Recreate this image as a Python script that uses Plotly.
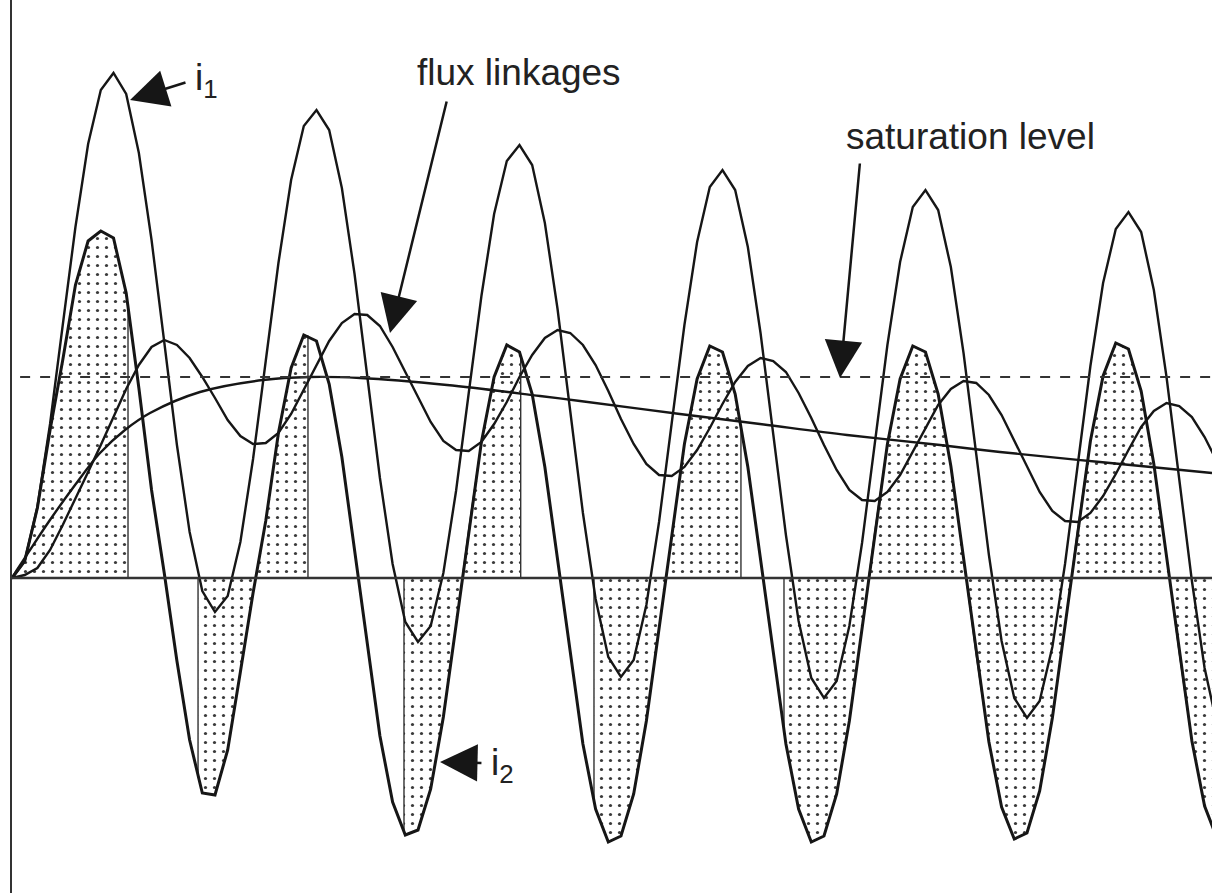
import plotly.graph_objects as go

# ---- data (time in ms, currents / flux in per-unit) ----
t_ms = [0.0, 1.25, 2.5, 3.75, 5.0, 6.25, 7.5, 8.75, 10.0, 11.25, 12.5, 13.75, 15.0, 16.25, 17.5, 18.75,
        20.0, 21.25, 22.5, 23.75, 25.0, 26.25, 27.5, 28.75, 30.0, 31.25, 32.5, 33.75, 35.0, 36.25, 37.5, 38.75,
        40.0, 41.25, 42.5, 43.75, 45.0, 46.25, 47.5, 48.75, 50.0, 51.25, 52.5, 53.75, 55.0, 56.25, 57.5, 58.75,
        60.0, 61.25, 62.5, 63.75, 65.0, 66.25, 67.5, 68.75, 70.0, 71.25, 72.5, 73.75, 75.0, 76.25, 77.5, 78.75,
        80.0, 81.25, 82.5, 83.75, 85.0, 86.25, 87.5, 88.75, 90.0, 91.25, 92.5, 93.75, 95.0, 96.25, 97.5, 98.75,
        100.0, 101.25, 102.5, 103.75, 105.0, 106.25, 107.5, 108.75, 110.0, 111.25, 112.5, 113.75, 115.0, 116.25, 117.5, 118.75]

i1 = [0.00, 0.17, 0.71, 1.54, 2.53, 3.51, 4.34, 4.88, 5.05, 4.84, 4.25, 3.38, 2.36, 1.33, 0.46, -0.13,
      -0.34, -0.18, 0.36, 1.19, 2.17, 3.15, 3.98, 4.52, 4.68, 4.48, 3.90, 3.04, 2.02, 1.00, 0.14, -0.44,
      -0.64, -0.48, 0.05, 0.87, 1.85, 2.82, 3.64, 4.17, 4.33, 4.13, 3.55, 2.69, 1.67, 0.65, -0.21, -0.79,
      -0.99, -0.82, -0.27, 0.56, 1.55, 2.53, 3.36, 3.91, 4.08, 3.88, 3.31, 2.45, 1.44, 0.43, -0.43, -1.00,
      -1.20, -1.03, -0.48, 0.35, 1.34, 2.33, 3.16, 3.71, 3.88, 3.68, 3.11, 2.25, 1.24, 0.23, -0.63, -1.20,
      -1.40, -1.23, -0.69, 0.14, 1.13, 2.12, 2.95, 3.49, 3.66, 3.46, 2.88, 2.01, 0.99, -0.03, -0.90, -1.48]

i2 = [0.00, 0.17, 0.70, 1.48, 2.18, 2.93, 3.37, 3.47, 3.40, 2.85, 1.90, 0.88, 0.05, -0.83, -1.62, -2.15,
      -2.17, -1.72, -0.94, -0.15, 0.57, 1.45, 2.10, 2.43, 2.37, 1.94, 1.21, 0.28, -0.70, -1.58, -2.24, -2.57,
      -2.52, -2.11, -1.39, -0.47, 0.49, 1.36, 2.01, 2.33, 2.26, 1.84, 1.11, 0.19, -0.78, -1.66, -2.31, -2.64,
      -2.58, -2.16, -1.43, -0.51, 0.46, 1.34, 1.99, 2.32, 2.26, 1.84, 1.11, 0.19, -0.78, -1.66, -2.31, -2.64,
      -2.58, -2.16, -1.43, -0.51, 0.46, 1.34, 1.99, 2.32, 2.26, 1.84, 1.12, 0.20, -0.77, -1.64, -2.29, -2.61,
      -2.55, -2.13, -1.40, -0.48, 0.49, 1.37, 2.02, 2.35, 2.29, 1.87, 1.14, 0.22, -0.75, -1.63, -2.28, -2.61]

flux = [0.00, 0.03, 0.10, 0.28, 0.53, 0.79, 1.06, 1.33, 1.61, 1.89, 2.13, 2.31, 2.38, 2.33, 2.20, 2.01,
        1.80, 1.58, 1.42, 1.34, 1.35, 1.45, 1.64, 1.88, 2.13, 2.37, 2.55, 2.64, 2.63, 2.52, 2.31, 2.06,
        1.81, 1.56, 1.37, 1.28, 1.27, 1.36, 1.54, 1.76, 2.01, 2.23, 2.40, 2.48, 2.45, 2.33, 2.13, 1.87,
        1.59, 1.34, 1.14, 1.03, 1.02, 1.11, 1.28, 1.50, 1.74, 1.96, 2.12, 2.20, 2.17, 2.06, 1.85, 1.60,
        1.33, 1.08, 0.88, 0.78, 0.77, 0.86, 1.03, 1.26, 1.50, 1.73, 1.89, 1.97, 1.95, 1.83, 1.63, 1.37,
        1.11, 0.86, 0.67, 0.57, 0.56, 0.65, 0.82, 1.04, 1.28, 1.51, 1.67, 1.75, 1.72, 1.61, 1.41, 1.16]

# slowly varying (offset) flux component
dc_t = [0.0, 0.49, 1.77, 3.74, 6.21, 8.67, 11.13, 13.60, 18.52, 24.73, 29.36, 34.29, 42.86,
        52.02, 55.96, 65.81, 73.69, 82.27, 91.43, 97.34, 107.19, 118.23]
dc_v = [0.0, 0.08, 0.28, 0.58, 0.93, 1.25, 1.48, 1.65, 1.86, 1.98, 2.01, 2.00, 1.93,
        1.82, 1.77, 1.64, 1.54, 1.43, 1.33, 1.26, 1.16, 1.05]

sat_level = 2.01

# instants where the core enters / leaves saturation and i2 at those instants
sat_start_t = [11.43, 29.16, 50.12, 71.82]
sat_start_v = [2.70, 2.42, 2.22, 1.51]
sat_end_t = [18.33, 38.62, 57.34, 76.06]
sat_end_v = [-1.98, -2.54, -2.23, -1.53]

T_END = 118.23

# ---- actual (shaded) secondary current: i2 except while saturated ----
pts = []
for t, v in zip(t_ms, i2):
    if any(s < t < e for s, e in zip(sat_start_t, sat_end_t)):
        continue
    pts.append((t, 0, v))
for s, sv, e, ev in zip(sat_start_t, sat_start_v, sat_end_t, sat_end_v):
    pts.append((s, 1, sv))
    pts.append((s, 2, 0.0))
    pts.append((e, 3, 0.0))
    pts.append((e, 4, ev))
pts.sort(key=lambda p: (p[0], p[1]))
shade_t = [p[0] for p in pts]
shade_v = [p[2] for p in pts]

INK = "#161616"
FONT = "Liberation Sans"

fig = go.Figure()

fig.add_trace(go.Scatter(
    x=shade_t, y=shade_v, mode="lines", fill="tozeroy",
    line=dict(color="#333333", width=1.4),
    fillcolor="white",
    fillpattern=dict(shape=".", size=9, solidity=0.1, fgcolor="#3a3a3a",
                     bgcolor="white", fillmode="replace"),
    hoverinfo="skip", showlegend=False))

fig.add_trace(go.Scatter(x=dc_t, y=dc_v, mode="lines", line=dict(color=INK, width=2.4, shape="spline"),
                         showlegend=False, hoverinfo="skip"))
fig.add_trace(go.Scatter(x=t_ms, y=flux, mode="lines", line=dict(color=INK, width=2.4),
                         showlegend=False, hoverinfo="skip"))
fig.add_trace(go.Scatter(x=t_ms, y=i1, mode="lines", line=dict(color=INK, width=2.4),
                         showlegend=False, hoverinfo="skip"))
fig.add_trace(go.Scatter(x=t_ms, y=i2, mode="lines", line=dict(color=INK, width=3.0),
                         showlegend=False, hoverinfo="skip"))

shapes = [
    dict(type="line", xref="paper", yref="y", x0=0, x1=1, y0=0, y1=0,
         line=dict(color="#333333", width=2.5), layer="above"),
    dict(type="line", xref="x", yref="y", x0=0.8, x1=T_END, y0=sat_level, y1=sat_level,
         line=dict(color="#333333", width=2, dash="10px,10px"), layer="above"),
]

def arrow(x, y, ax, ay):
    return dict(x=x, y=y, ax=ax, ay=ay, xref="x", yref="y", axref="x", ayref="y",
                text="", showarrow=True, arrowhead=2, arrowsize=3.0, arrowwidth=2.5,
                arrowcolor=INK, standoff=0, startstandoff=0)

def label(x, y, text, xanchor="center"):
    return dict(x=x, y=y, xref="x", yref="y", text=text, showarrow=False,
                xanchor=xanchor, yanchor="middle",
                font=dict(family=FONT, size=37, color="#222222"))

annotations = [
    arrow(11.63, 4.78, 17.24, 4.96),
    label(17.8, 4.98, "i<sub>1</sub>", "left"),
    arrow(42.17, -1.84, 46.40, -1.85),
    label(47.0, -1.87, "i<sub>2</sub>", "left"),
    arrow(37.24, 2.45, 42.86, 4.78),
    label(50.0, 5.06, "flux linkages"),
    arrow(81.58, 2.00, 83.55, 4.16),
    label(94.48, 4.42, "saturation level"),
]

fig.update_layout(
    width=1212, height=893, autosize=False,
    margin=dict(l=12, r=0, t=0, b=0),
    paper_bgcolor="white", plot_bgcolor="white",
    xaxis=dict(range=[0, T_END], showgrid=False, zeroline=False, showline=False,
               showticklabels=False, ticks=""),
    yaxis=dict(range=[-3.15, 5.78], showgrid=False, zeroline=False, showline=True,
               linecolor="#333333", linewidth=2.5, showticklabels=False, ticks=""),
    shapes=shapes, annotations=annotations, showlegend=False,
)

fig.write_html("out.html",
               config={"displayModeBar": False, "staticPlot": True},
               post_script="document.body.style.margin='0px';document.body.style.overflow='hidden';")
